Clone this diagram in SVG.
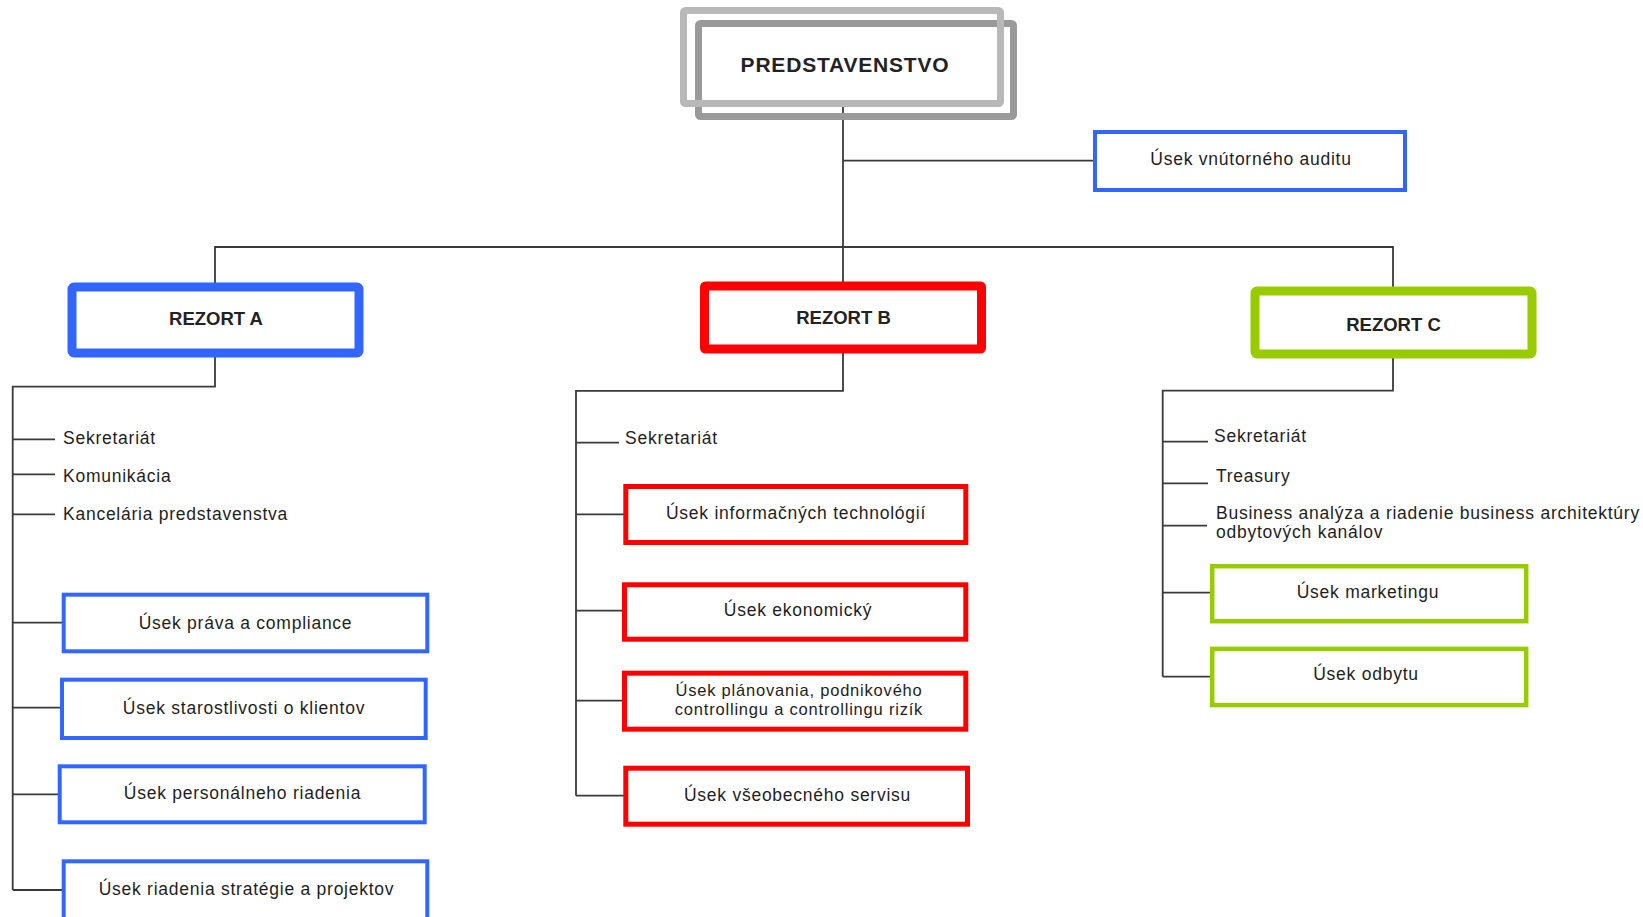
<svg xmlns="http://www.w3.org/2000/svg" width="1643" height="917" viewBox="0 0 1643 917">
<style>
.ln{stroke:#3a3a3a;stroke-width:1.8;fill:none}
.t{font-family:"Liberation Sans",Arial,sans-serif;font-size:17.5px;letter-spacing:0.75px;fill:#1e1e1e}
.ts{font-family:"Liberation Sans",Arial,sans-serif;font-size:16.5px;letter-spacing:0.8px;fill:#1e1e1e}
.tb{font-family:"Liberation Sans",Arial,sans-serif;font-size:18.5px;font-weight:bold;fill:#222;text-anchor:middle}
.c{text-anchor:middle}
.bA{fill:#fff;stroke:#3366ff;stroke-width:9}
.bB{fill:#fff;stroke:#ff0000;stroke-width:9}
.bC{fill:#fff;stroke:#99cc00;stroke-width:9}
.sA{fill:#fff;stroke:#3366ff;stroke-width:4}
.sB{fill:#fff;stroke:#ff0000;stroke-width:5}
.sC{fill:#fff;stroke:#99cc00;stroke-width:4.5}
</style>
<rect width="1643" height="917" fill="#fff"/>
<g id="connectors">
<path class="ln" d="M843,105 V286"/>
<path class="ln" d="M843,160.7 H1095"/>
<path class="ln" d="M215,287 V247 H1393 V291"/>
<path class="ln" d="M215,353 V386.7 H12.7 V890"/>
<path class="ln" d="M12.7,439.3 H55 M12.7,474.3 H55 M12.7,514.3 H55"/>
<path class="ln" d="M12.7,622.7 H63 M12.7,707.7 H62 M12.7,794.3 H59 M12.7,890 H63"/>
<path class="ln" d="M843,349 V390.8 H576 V795.7"/>
<path class="ln" d="M576,442.7 H619"/>
<path class="ln" d="M576,514.3 H625 M576,610.7 H624 M576,700.7 H624 M576,795.7 H625"/>
<path class="ln" d="M1393,354 V390.7 H1162.7 V676.7"/>
<path class="ln" d="M1162.7,441.7 H1208 M1162.7,483.3 H1208 M1162.7,525.7 H1207"/>
<path class="ln" d="M1162.7,592.7 H1212 M1162.7,676.7 H1212"/>
</g>
<g id="predstavenstvo">
<rect x="698.5" y="23.5" width="315" height="93" rx="2" fill="none" stroke="#9a9a9a" stroke-width="7"/>
<rect x="683.5" y="10.5" width="317" height="93" rx="2" fill="none" stroke="#b8b8b8" stroke-width="7"/>
<text class="tb" x="845" y="72" style="font-size:21px;letter-spacing:0.8px">PREDSTAVENSTVO</text>
</g>
<g id="audit">
<rect class="sA" x="1095" y="132" width="310" height="58"/>
<text class="t c" x="1251" y="165">Úsek vnútorného auditu</text>
</g>
<g id="rezort-a">
<rect class="bA" x="72" y="287" width="287" height="66" rx="2"/>
<text class="tb" x="216" y="325">REZORT A</text>
</g>
<g id="rezort-b">
<rect class="bB" x="704.5" y="286" width="277" height="63" rx="1"/>
<text class="tb" x="843.5" y="323.5">REZORT B</text>
</g>
<g id="rezort-c">
<rect class="bC" x="1255" y="291" width="277" height="63" rx="2"/>
<text class="tb" x="1393.5" y="331">REZORT C</text>
</g>
<g id="a-items">
<text class="t" x="63" y="443.5">Sekretariát</text>
<text class="t" x="63" y="481.5">Komunikácia</text>
<text class="t" x="63" y="520">Kancelária predstavenstva</text>
</g>
<g id="a-pravo">
<rect class="sA" x="63.7" y="594.7" width="363.6" height="56.6"/>
<text class="t c" x="245.5" y="629.3">Úsek práva a compliance</text>
</g>
<g id="a-starostlivost">
<rect class="sA" x="62" y="679.7" width="363.7" height="58.3"/>
<text class="t c" x="244" y="714">Úsek starostlivosti o klientov</text>
</g>
<g id="a-personal">
<rect class="sA" x="59.7" y="766.3" width="365" height="56"/>
<text class="t c" x="242.5" y="799.3">Úsek personálneho riadenia</text>
</g>
<g id="a-strategia">
<rect class="sA" x="63.7" y="861.3" width="363.6" height="70"/>
<text class="t c" x="246.5" y="895">Úsek riadenia stratégie a projektov</text>
</g>
<g id="b-items">
<text class="t" x="625" y="443.5">Sekretariát</text>
</g>
<g id="b-it">
<rect class="sB" x="625.8" y="486.5" width="340" height="56"/>
<text class="t c" x="796" y="519.3">Úsek informačných technológií</text>
</g>
<g id="b-ekonomicky">
<rect class="sB" x="624.5" y="584.8" width="341.3" height="54.4"/>
<text class="t c" x="798" y="616">Úsek ekonomický</text>
</g>
<g id="b-planovanie">
<rect class="sB" x="624.5" y="673.2" width="341.3" height="56"/>
<text class="ts c" x="799" y="696">Úsek plánovania, podnikového</text>
<text class="ts c" x="799" y="715">controllingu a controllingu rizík</text>
</g>
<g id="b-servis">
<rect class="sB" x="625.8" y="768.2" width="341.7" height="56"/>
<text class="t c" x="797.5" y="801">Úsek všeobecného servisu</text>
</g>
<g id="c-items">
<text class="t" x="1214" y="442">Sekretariát</text>
<text class="t" x="1216" y="481.5">Treasury</text>
<text class="t" x="1216" y="519.3">Business analýza a riadenie business architektúry</text>
<text class="t" x="1216" y="538.3">odbytových kanálov</text>
</g>
<g id="c-marketing">
<rect class="sC" x="1212.2" y="566.2" width="314" height="55"/>
<text class="t c" x="1368" y="598.3">Úsek marketingu</text>
</g>
<g id="c-odbyt">
<rect class="sC" x="1212.2" y="648.9" width="314" height="56.2"/>
<text class="t c" x="1366" y="680">Úsek odbytu</text>
</g>
</svg>
